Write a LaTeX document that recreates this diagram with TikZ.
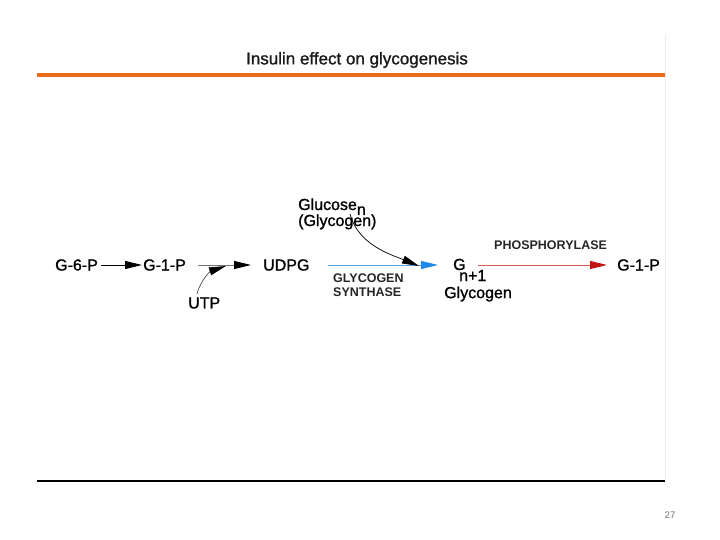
\documentclass[tikz,border=0pt]{standalone}
\usepackage{fontspec}
\setmainfont{Liberation Sans}
\newfontfamily\semib[FakeBold=1.2]{Liberation Sans}
\usetikzlibrary{arrows.meta}
\definecolor{orangebar}{RGB}{236,108,32}
\definecolor{synblue}{RGB}{30,136,235}
\definecolor{synline}{RGB}{90,160,225}
\definecolor{phred}{RGB}{195,20,20}
\definecolor{phline}{RGB}{215,90,90}
\tikzset{
  lbl/.style={font=\semib\fontsize{16}{17}\selectfont, inner sep=0pt, text=black},
  enz/.style={font=\fontsize{12.5}{14.5}\selectfont\bfseries, inner sep=0pt, align=left, text=black!85},
  head/.style={-{Triangle[length=17pt,width=8pt,fill=black,color=black]}},
}
\begin{document}
\begin{tikzpicture}[x=1pt,y=-1pt]
\useasboundingbox (0,0) rectangle (720,540);
% frame lines
\draw[black!8, line width=1pt] (665,35) -- (665,480);
\draw[orangebar, line width=4pt] (37,75) -- (665,75);
\draw[black, line width=2pt] (37,481) -- (665,481);
\node[font=\semib\fontsize{17}{19}\selectfont, text=black!90] (title) at (357,60) {Insulin effect on glycogenesis};
\node[font=\fontsize{9.5}{10}\selectfont, text=black!55] (page) at (670,515) {27};
% pathway
\node[lbl, anchor=west] (g6p) at (55,265) {G-6-P};
\node[lbl, anchor=west] (g1p) at (143,265) {G-1-P};
\node[lbl, anchor=west] (udpg) at (263,265) {UDPG};
\node[lbl, anchor=west] (utp) at (188,303) {UTP};
\node[lbl, anchor=base west] (glc) at (298,210) {Glucose\raisebox{-5pt}{n}};
\node[lbl, anchor=base west] (glc2) at (298,226) {(Glycogen)};
\node[lbl, anchor=base west] (gn) at (453,270) {G};
\node[lbl, anchor=base west] (gnsub) at (459,281) {n+1};
\node[lbl, anchor=west] (glyc) at (444,294) {Glycogen};
\node[lbl, anchor=west] (g1p2) at (617,265) {G-1-P};
\node[enz, anchor=west] (gs) at (333,285) {GLYCOGEN\\SYNTHASE};
\node[enz, anchor=west] (ph) at (494,245) {PHOSPHORYLASE};
\coordinate (utpstart) at (197,294);
\coordinate (glcstart) at (350,214);
% arrows
\draw[head, black, line width=0.9pt] ([xshift=3pt]g6p.east) -- ([xshift=-1pt]g1p.west);
\draw[head, black!55, line width=0.9pt] ([xshift=12pt]g1p.east) -- ([xshift=-12pt]udpg.west);
\draw[head, black!70, line width=0.7pt] (utpstart) .. controls (201,279) and (211,271) .. (226,266);
\draw[synline, line width=1pt, -{Triangle[length=17pt,width=8pt,fill=synblue,color=synblue]}] ([xshift=18pt]udpg.east) -- (438,265);
\draw[head, black, line width=0.7pt] (glcstart) .. controls (358,245) and (392,255) .. (419,266);
\draw[phline, line width=1pt, -{Triangle[length=17pt,width=8pt,fill=phred,color=phred]}] (478,265) -- ([xshift=-10pt]g1p2.west);
\end{tikzpicture}
\end{document}
